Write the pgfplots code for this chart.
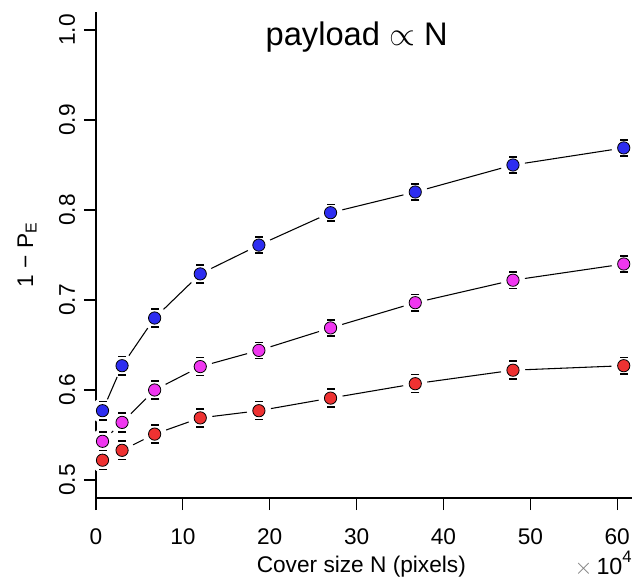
\documentclass[border=0pt]{standalone}
\usepackage{pgfplots}
\pgfplotsset{compat=1.18}
\usepackage{pgfplotstable}
\usepackage{fontspec}
\setmainfont{Liberation Sans}

\definecolor{ptblue}{RGB}{45,45,240}
\definecolor{ptmag}{RGB}{240,55,240}
\definecolor{ptred}{RGB}{238,50,50}

% cover size in units of 10^4 pixels, 1 - P_E, error half-width
\pgfplotstableread{
x     y     e
0.75  0.577 0.0105
3     0.627 0.0105
6.75  0.680 0.010
12    0.729 0.010
18.75 0.761 0.009
27    0.797 0.009
36.75 0.820 0.009
48    0.850 0.009
60.75 0.869 0.009
}\blueset

\pgfplotstableread{
x     y     e
0.75  0.543 0.0105
3     0.564 0.0105
6.75  0.600 0.010
12    0.626 0.010
18.75 0.644 0.009
27    0.669 0.009
36.75 0.697 0.009
48    0.722 0.009
60.75 0.740 0.009
}\magset

\pgfplotstableread{
x     y     e
0.75  0.522 0.0105
3     0.533 0.0105
6.75  0.551 0.010
12    0.569 0.010
18.75 0.577 0.010
27    0.591 0.010
36.75 0.607 0.010
48    0.622 0.010
60.75 0.627 0.009
}\redset

\pgfplotsset{
  ptline/.style={black, line width=0.8pt, no marks},
  ptmask/.style={white, only marks, mark=*, mark size=9pt, mark options={fill=white, draw=white}},
  ptcap/.style={black, only marks, mark=-, mark size=3pt, mark options={line width=1.1pt}},
  ptdot/.style={only marks, mark=*, mark size=4.6pt,
    mark options={fill=#1, draw=black, line width=0.6pt}},
}

\begin{document}
\begin{tikzpicture}
\begin{axis}[
  scale only axis, width=402pt, height=364.5pt,
  at={(0,0)}, anchor=south west,
  xmin=0, xmax=61.7, ymin=0.48, ymax=1.02,
  axis x line=bottom, axis y line=left,
  axis line style={-, line width=0.8pt},
  tick align=outside, major tick length=9pt,
  tick style={black, line width=0.8pt},
  xtick={0,10,20,30,40,50,60},
  xticklabels={0,10,20,30,40,50,60},
  ytick={0.5,0.6,0.7,0.8,0.9,1.0},
  yticklabels={0.5,0.6,0.7,0.8,0.9,1.0},
  tick label style={font=\fontsize{17}{20}\selectfont, inner sep=0pt},
  xticklabel style={anchor=base, yshift=-26pt},
  yticklabel style={rotate=90, anchor=south, yshift=6.5pt},
  label style={font=\fontsize{17}{20}\selectfont},
  xlabel={Cover size N (pixels)},
  ylabel={1 − P\textsubscript{E}},
  xlabel style={at={(rel axis cs:0.495,-0.1543)}, anchor=base},
  ylabel style={at={(rel axis cs:-0.1287,0.5)}, anchor=center},
  clip=false,
]
\addplot[ptline] table[x=x, y=y] {\blueset};
\addplot[ptline] table[x=x, y=y] {\magset};
\addplot[ptline] table[x=x, y=y] {\redset};
\addplot[ptmask] table[x=x, y=y] {\blueset};
\addplot[ptmask] table[x=x, y=y] {\magset};
\addplot[ptmask] table[x=x, y=y] {\redset};
% error bar caps at y + e and y - e
\addplot[ptcap] table[x=x, y expr=\thisrow{y}+\thisrow{e}] {\blueset};
\addplot[ptcap] table[x=x, y expr=\thisrow{y}-\thisrow{e}] {\blueset};
\addplot[ptcap] table[x=x, y expr=\thisrow{y}+\thisrow{e}] {\magset};
\addplot[ptcap] table[x=x, y expr=\thisrow{y}-\thisrow{e}] {\magset};
\addplot[ptcap] table[x=x, y expr=\thisrow{y}+\thisrow{e}] {\redset};
\addplot[ptcap] table[x=x, y expr=\thisrow{y}-\thisrow{e}] {\redset};
\addplot[ptdot=ptblue] table[x=x, y=y] {\blueset};
\addplot[ptdot=ptmag] table[x=x, y=y] {\magset};
\addplot[ptdot=ptred] table[x=x, y=y] {\redset};

\node[anchor=base, font=\fontsize{24.5}{29}\selectfont] at (axis cs:30,0.983) {payload $\propto$ N};
\node[anchor=base east, font=\fontsize{17.5}{20}\selectfont, inner sep=0pt]
  at ([yshift=-57pt]rel axis cs:1,0) {\textcolor{gray}{$\times$}\,10\raisebox{9pt}[0pt][0pt]{\fontsize{12.5}{14}\selectfont 4}};
\end{axis}
\pgfresetboundingbox
\path[use as bounding box] (-72pt,-60.75pt) rectangle (402pt,373.5pt);
\end{tikzpicture}
\end{document}
